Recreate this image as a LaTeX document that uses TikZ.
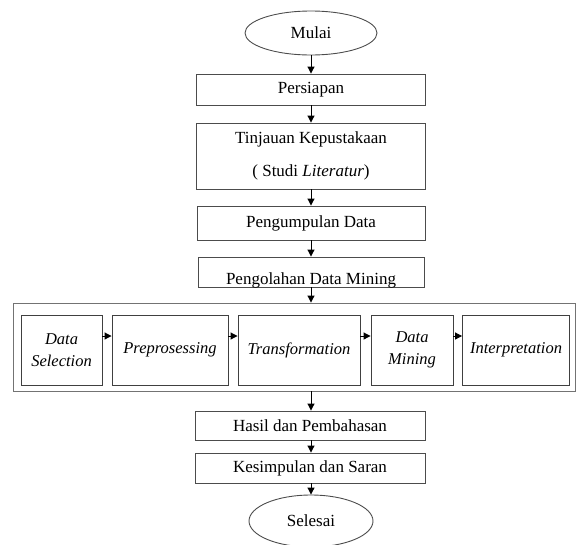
\documentclass[tikz,border=0pt]{standalone}
\usepackage{fontspec}
\setmainfont{Liberation Serif}
\usetikzlibrary{arrows.meta,shapes.geometric}
\begin{document}
\begin{tikzpicture}[x=1pt,y=-1pt,
  txt/.style={font=\fontsize{17}{20}\selectfont},
  boxc/.style={draw=black!70, line width=0.9pt, rectangle, inner sep=0pt, txt},
  inbox/.style={draw=black!75, line width=0.9pt, rectangle, inner sep=0pt, align=center, minimum height=70pt, font=\fontsize{16.5}{22}\selectfont\itshape},
  oval/.style={draw=black!70, line width=0.9pt, ellipse, inner sep=0pt, txt},
  flow/.style={draw=black, line width=1pt, -{Triangle[length=7pt,width=7pt]}},
]
\useasboundingbox (0,0) rectangle (577,544);
\node[oval, minimum width=132pt, minimum height=44pt] (mulai) at (311,33) {Mulai};
\node[boxc, minimum width=229pt, minimum height=31pt] (persiapan) at (311,89.5) {Persiapan};
\node[boxc, minimum width=229pt, minimum height=66pt, align=center, font=\fontsize{17}{33}\selectfont] (tinjauan) at (311,156) {Tinjauan Kepustakaan\\( Studi \textit{Literatur})};
\node[boxc, minimum width=228pt, minimum height=34pt] (kumpul) at (311,223) {Pengumpulan Data};
\node[boxc, minimum width=226pt, minimum height=30pt] (olah) at (311,272) {};
\begin{scope}
  \clip (olah.south west) rectangle (olah.north east);
  \node[txt, anchor=base, inner sep=0pt] (olahtxt) at (311,284) {Pengolahan Data Mining};
\end{scope}
\node[draw=black!55, line width=0.9pt, rectangle, minimum width=562pt, minimum height=88pt] (outer) at (294,347) {};
\node[inbox, minimum width=81pt] (ds) at (61.5,350) {Data\\Selection};
\node[inbox, minimum width=116pt] (pp) at (170,350) {Preprosessing};
\node[inbox, minimum width=122pt] (tf) at (299,350) {Transformation};
\node[inbox, minimum width=82pt] (dm) at (412,350) {Data\\Mining};
\node[inbox, minimum width=107pt] (ip) at (516,350) {Interpretation};
\coordinate (ay) at (0,336);
\node[boxc, minimum width=230pt, minimum height=29pt] (hasil) at (310,425.5) {Hasil dan Pembahasan};
\node[boxc, minimum width=230pt, minimum height=30pt] (simpul) at (310,468) {Kesimpulan dan Saran};
\node[oval, minimum width=124pt, minimum height=52pt] (selesai) at (311,521) {Selesai};
\draw[flow] (mulai.south) -- (mulai.south |- persiapan.north);
\draw[flow] (persiapan.south) -- (tinjauan.north);
\draw[flow] (tinjauan.south) -- (kumpul.north);
\draw[flow] (kumpul.south) -- (olah.north);
\draw[flow] (olah.south) -- (olah.south |- outer.north);
\draw[flow] (ds.east |- ay) -- (pp.west |- ay);
\draw[flow] (pp.east |- ay) -- (tf.west |- ay);
\draw[flow] (tf.east |- ay) -- (dm.west |- ay);
\draw[flow] (dm.east |- ay) -- (ip.west |- ay);
\draw[flow] (olah.south |- outer.south) -- (olah.south |- hasil.north);
\draw[flow] (hasil.south -| olah.south) -- (simpul.north -| olah.south);
\draw[flow] (simpul.south -| olah.south) -- (selesai.north);
\end{tikzpicture}
\end{document}
